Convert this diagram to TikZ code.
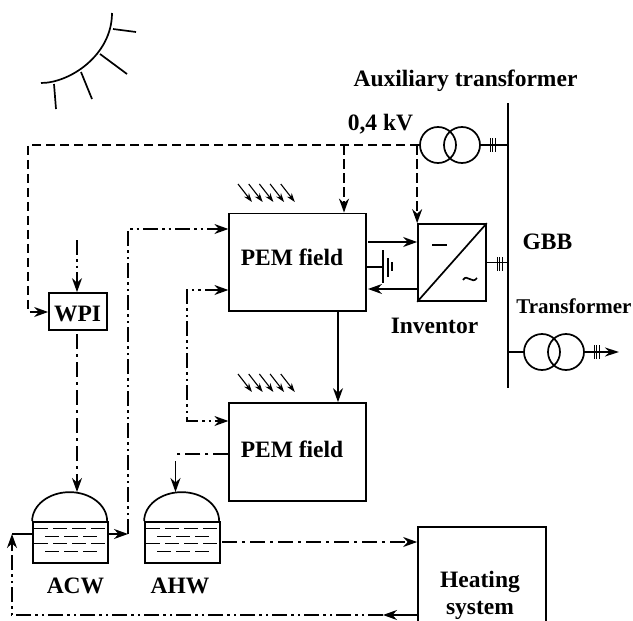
\documentclass[tikz,border=0pt]{standalone}
\usepackage{fontspec}
\setmainfont{Liberation Serif}
\usetikzlibrary{arrows.meta}
\tikzset{
  lbl/.style={font=\bfseries\fontsize{23.5}{28}\selectfont,inner sep=0pt,anchor=base,text=black},
  boxn/.style={draw,line width=1.7pt,inner sep=0pt,fill=none},
  bigtip/.tip={Stealth[length=14pt,width=10pt]},
  conn/.style={line width=1.7pt,-bigtip},
  plain/.style={line width=1.7pt},
  dsh/.style={conn,dash pattern=on 9.5pt off 4.5pt},
  dd/.style={conn,dash pattern=on 15pt off 4pt on 2.5pt off 4pt on 2.5pt off 4pt},
  ddp/.style={plain,dash pattern=on 15pt off 4pt on 2.5pt off 4pt on 2.5pt off 4pt},
  da/.style={conn,dash pattern=on 15pt off 5pt on 3pt off 5pt},
  dap/.style={plain,dash pattern=on 15pt off 5pt on 3pt off 5pt},
  ray/.style={line width=1.1pt,-{Stealth[length=9pt,width=6pt]}},
  liquid/.style={line width=1.3pt,dash pattern=on 14pt off 5pt},
  tick/.style={line width=1pt},
  trafo/.style={draw,circle,line width=1.7pt,inner sep=0pt,minimum size=36pt}
}
\begin{document}
\begin{tikzpicture}[x=1pt,y=-1pt]
\useasboundingbox (0,0) rectangle (633,621);
\clip (0,0) rectangle (633,621);
% sun
\draw[plain] (41,83) .. controls (70,83) and (112,55) .. (112,13);
\draw[plain] (54,84) -- (56,109);
\draw[plain] (81,72) -- (92,99);
\draw[plain] (100,54) -- (127,74);
\draw[plain] (113,29) -- (136,32);
% boxes
\node[boxn,minimum width=136.5pt,minimum height=97.5pt] (pemA) at (297.5,262.2) {};
\node[boxn,minimum width=136.5pt,minimum height=98pt] (pemB) at (297.5,452) {};
\node[boxn,minimum width=68pt,minimum height=77pt] (inv) at (452,262.5) {};
\node[boxn,minimum width=58pt,minimum height=37pt] (wpi) at (78,311.5) {};
\node[boxn,minimum width=128pt,minimum height=120pt] (heat) at (482,587) {};
\node[boxn,minimum width=75pt,minimum height=41pt] (acw) at (70.5,542.5) {};
\node[boxn,minimum width=75pt,minimum height=41pt] (ahw) at (182.5,542.5) {};
% tanks
\foreach \t in {acw,ahw}{
  \draw[plain] (\t.north west) arc[start angle=180,end angle=0,x radius=37.5pt,y radius=29pt];
  \draw[liquid] ([shift={(2,7)}]\t.north west) -- ++(71,0);
  \draw[liquid] ([shift={(13,15)}]\t.north west) -- ++(52,0);
  \draw[liquid] ([shift={(2,22)}]\t.north west) -- ++(71,0);
  \draw[liquid] ([shift={(13,30)}]\t.north west) -- ++(52,0);
}
% inverter symbols
\draw[plain] (inv.south west) -- (inv.north east);
\draw[plain] (432,245) -- (447,245);
\draw[plain] (463,280) .. controls (467,273) and (472,285) .. (477,278);
% bus
\coordinate (busT) at (508,103);
\coordinate (busB) at (508,388);
\draw[line width=2pt] (busT) -- (busB);
% transformers
\node[trafo] (t1) at (438,145) {};
\node[trafo] (t2) at (462,145) {};
\node[trafo] (t3) at (542,352) {};
\node[trafo] (t4) at (566,352) {};
\draw[plain] (t2.east) -- (t2.east -| busT);
\foreach \x in {490,492.5,495} \draw[tick] (\x,138) -- (\x,152);
\draw[plain] (inv.east) -- (inv.east -| busT);
\foreach \x in {497,499.5,502} \draw[tick] (\x,257) -- (\x,271);
\draw[plain] (t3.west) -- (t3.west -| busT);
\coordinate (outR) at (619,352);
\draw[plain,-{Stealth[length=14pt,width=9pt]}] (t4.east) -- (outR);
\foreach \x in {594,596.5,599} \draw[tick] (\x,345) -- (\x,359);
% dashed supply
\coordinate (corner) at (28,145);
\coordinate (leftdown) at (28,312);
\draw[dsh] (t1.west) -- (corner) -- (leftdown) -- (leftdown -| wpi.west);
\coordinate (dA) at (344,145);
\draw[dsh] (dA) -- (dA |- pemA.north);
\draw[dsh] (t1.west -| inv.west) -- (inv.north west);
% solid inverter links
\coordinate (a1) at (368,242);
\coordinate (a2) at (368,289);
\draw[conn] (a1) -- (a1 -| inv.west);
\draw[conn] (a2 -| inv.west) -- (a2);
% earth
\coordinate (g) at (383,267);
\draw[plain] (g -| pemA.east) -- (g);
\draw[plain] (383,250) -- (383,283);
\draw[plain] (388,258) -- (388,277);
\draw[plain] (392,262) -- (392,271);
% pem to pem
\coordinate (pp) at (338,311);
\draw[conn] (pp) -- (pp |- pemB.north);
% WPI
\coordinate (wIn) at (77,240);
\draw[dd] (wIn) -- (wIn |- wpi.north);
\coordinate (wOut) at (77,334);
\draw[da] (wOut) -- (77,492);
% ACW out
\coordinate (c1) at (128,534);
\coordinate (c2) at (128,229);
\draw[conn] (c1 -| acw.east) -- (c1);
\draw[dd] (c1) -- (c2) -- (c2 -| pemA.west);
% PEM A to PEM B loop
\coordinate (l1) at (187,290);
\coordinate (l2) at (187,421);
\draw[dd,bigtip-bigtip] (l1 -| pemA.west) -- (l1) -- (l2) -- (l2 -| pemB.west);
% PEM B to AHW
\coordinate (h1) at (175.5,454);
\coordinate (h2) at (175.5,492);
\draw[dap] (h1 -| pemB.west) -- (h1);
\draw[conn] (175.5,461) -- (h2);
% AHW to heating
\coordinate (s1) at (222,542);
\draw[da] (s1) -- (s1 -| heat.west);
% heating return
\coordinate (r0) at (383,615);
\coordinate (r1) at (12,615);
\coordinate (r2) at (12,534);
\draw[conn] (r0 -| heat.west) -- (r0);
\draw[ddp] (r0) -- (r1) -- (12,550);
\draw[conn] (12,550) -- (r2);
\draw[plain] (r2) -- (r2 -| acw.west);
% sun rays
\foreach \i in {0,...,4}{
  \draw[ray] (238+\i*10.7,184) -- ++(14,18);
  \draw[ray] (238+\i*10.7,374) -- ++(14,18);
}
% labels
\node[lbl] (tPemA) at (292,265) {PEM field};
\node[lbl] (tPemB) at (292,457) {PEM field};
\node[lbl] (tAux) at (465.5,86) {Auxiliary transformer};
\node[lbl] (tKv) at (380.5,130) {0,4 kV};
\node[lbl] (tGbb) at (547.5,249) {GBB};
\node[lbl,font=\bfseries\fontsize{21}{25}\selectfont] (tTr) at (574,313) {Transformer};
\node[lbl] (tInv) at (434.5,333) {Inventor};
\node[lbl] (tWpi) at (77.5,321) {WPI};
\node[lbl] (tAcw) at (75.5,593) {ACW};
\node[lbl] (tAhw) at (180,593) {AHW};
\node[lbl] (tHe) at (480,587) {Heating};
\node[lbl] (tSy) at (480,614) {system};
\end{tikzpicture}
\end{document}
